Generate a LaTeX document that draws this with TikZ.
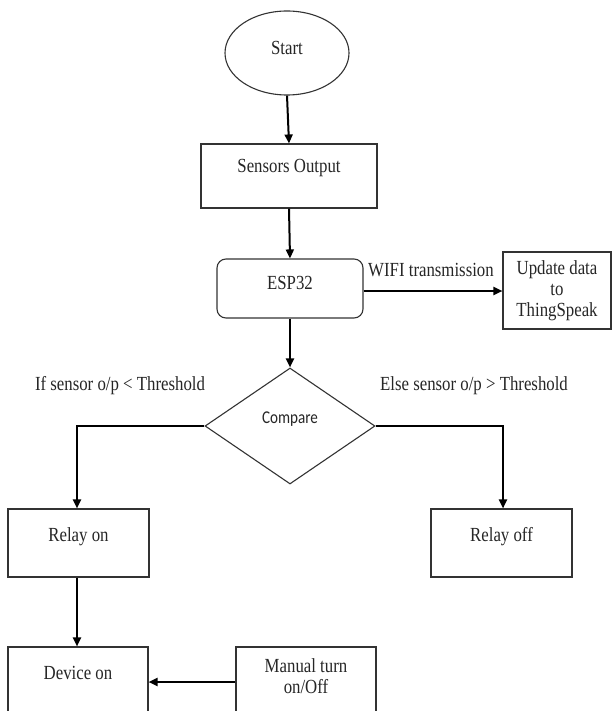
\documentclass[tikz,border=0pt]{standalone}
\usepackage{fontspec}
\setmainfont{Liberation Serif}[FakeStretch=0.84]
\newfontfamily\cmpfont{Carlito}[FakeStretch=0.84]
\usetikzlibrary{shapes.geometric,arrows.meta}
\begin{document}
\begin{tikzpicture}[x=1pt,y=-1pt,
  every node/.style={font=\fontsize{20}{21}\selectfont, text=black!85},
  box/.style={draw=black!80, line width=1.1pt, rectangle, inner sep=0pt},
  flow/.style={line width=2pt, -{Triangle[length=9pt,width=8pt]}},
  plain/.style={line width=2pt}]
\useasboundingbox (0,0) rectangle (612,711);
\clip (0,0) rectangle (612,711);
\fill[white] (0,0) rectangle (612,711);

\node[box, ellipse, minimum width=124pt, minimum height=84pt] (start) at (287,53) {};
\node at (287,48) (startT) {Start};

\node[box, minimum width=176pt, minimum height=64pt] (sens) at (289,176) {};
\node at (289,168) (sensT) {Sensors Output};

\node[box, rounded corners=9pt, minimum width=146pt, minimum height=59pt] (esp) at (290,288.5) {};
\node at (290,283) (espT) {ESP32};

\node[box, minimum width=108pt, minimum height=77pt, align=center] (upd) at (557,290.5) {Update data\\to\\ThingSpeak};

\node at (431,270) (wifi) {WIFI transmission};

\node[box, diamond, aspect=1.466, minimum width=170pt, minimum height=116pt] (cmp) at (290,426) {};
\node[font=\cmpfont\fontsize{18}{20}\selectfont] at (290,419) (cmpT) {Compare};

\node at (120,386) (iflbl) {If sensor o/p < Threshold};
\node at (474,386) (elselbl) {Else sensor o/p > Threshold};

\node[box, minimum width=141pt, minimum height=68pt] (ron) at (78.5,543) {};
\node at (78.5,537) (ronT) {Relay on};

\node[box, minimum width=141pt, minimum height=68pt] (roff) at (501.5,543) {};
\node at (501.5,537) (roffT) {Relay off};

\node[box, minimum width=140pt, minimum height=110pt] (dev) at (78,702) {};
\node at (78,673) (devT) {Device on};

\node[box, minimum width=140pt, minimum height=110pt, align=center] (man) at (306,702) {};
\node[align=center] at (306,676) (manT) {Manual turn\\on/Off};

\coordinate (lb) at (77,426);
\coordinate (rb) at (503,426);

\draw[flow] (start.south) -- (sens.north);
\draw[flow] (sens.south) -- (esp.north);
\draw[flow] (esp.east |- 0,291) -- (upd.west |- 0,291);
\draw[flow] (esp.south) -- (cmp.north);
\draw[flow] (cmp.west) -- (lb) -- (lb |- ron.north);
\draw[flow] (cmp.east) -- (rb) -- (rb |- roff.north);
\draw[flow] (ron.south -| lb) -- (lb |- dev.north);
\draw[flow] (man.west |- 0,682) -- (dev.east |- 0,682);
\end{tikzpicture}
\end{document}
